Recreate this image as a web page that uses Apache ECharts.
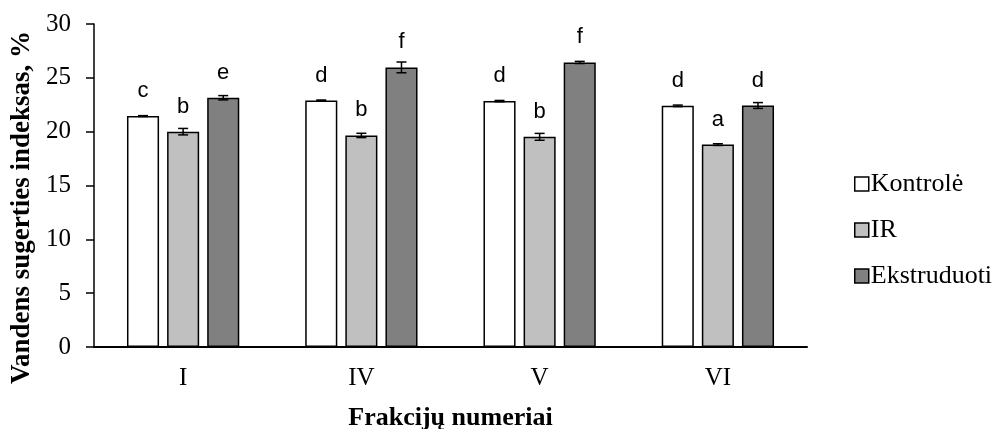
<!DOCTYPE html>
<html>
<head>
<meta charset="utf-8">
<script src="https://cdn.jsdelivr.net/npm/echarts@6/dist/echarts.min.js"></script>
<style>
  html, body { margin: 0; padding: 0; background: #fff; }
  #chart { width: 995px; height: 429px; }
</style>
</head>
<body>
<div id="chart"></div>
<script>
// Fractions and measured water absorption index (%) with standard errors
const categories = ['I', 'IV', 'V', 'VI'];
const seriesNames = ['Kontrolė', 'IR', 'Ekstruduoti'];

const kontrole = [21.45, 22.9, 22.84, 22.4];
const ir = [20.0, 19.65, 19.52, 18.8];
const ekstruduoti = [23.15, 25.97, 26.43, 22.43];

const kontroleErr = [0.04, 0.04, 0.06, 0.07];
const irErr = [0.3, 0.2, 0.32, 0.08];
const ekstruduotiErr = [0.2, 0.5, 0.1, 0.27];

// Significance letters above each bar
const kontroleLetters = ['c', 'd', 'd', 'd'];
const irLetters = ['b', 'b', 'b', 'a'];
const ekstruduotiLetters = ['e', 'f', 'f', 'd'];

const yTicks = [0, 5, 10, 15, 20, 25, 30];

const BAR_FRAC = 0.18;
const GAP_FRAC = 0.25;
const serif = '"Liberation Serif", "Times New Roman", serif';
const sans = '"Liberation Sans", Arial, sans-serif';

function barSeries(name, values, letters, color) {
  return {
    name: name,
    type: 'bar',
    data: values,
    barWidth: (BAR_FRAC * 100) + '%',
    barGap: (GAP_FRAC * 100) + '%',
    itemStyle: { color: color, borderColor: '#000', borderWidth: 1.5 },
    label: {
      show: true,
      position: 'top',
      distance: 14,
      formatter: p => letters[p.dataIndex],
      fontFamily: sans,
      fontSize: 22,
      color: '#000'
    },
    z: 2
  };
}

function errorSeries(values, errs, slot) {
  return {
    type: 'custom',
    data: values.map((v, i) => [i, v, errs[i]]),
    z: 5,
    silent: true,
    renderItem: function (params, api) {
      const i = api.value(0);
      const v = api.value(1);
      const e = api.value(2);
      const band = api.size([1, 0])[0];
      const step = band * BAR_FRAC * (1 + GAP_FRAC);
      const center = api.coord([i, v]);
      const x = center[0] + (slot - 1) * step;
      const yHi = api.coord([i, v + e])[1];
      const yLo = api.coord([i, v - e])[1];
      const cap = 5;
      const style = { stroke: '#000', lineWidth: 1.5 };
      return {
        type: 'group',
        children: [
          { type: 'line', shape: { x1: x, y1: yHi, x2: x, y2: yLo }, style: style },
          { type: 'line', shape: { x1: x - cap, y1: yHi, x2: x + cap, y2: yHi }, style: style },
          { type: 'line', shape: { x1: x - cap, y1: yLo, x2: x + cap, y2: yLo }, style: style }
        ]
      };
    }
  };
}

const chart = echarts.init(document.getElementById('chart'), null, { renderer: 'canvas' });

chart.setOption({
  animation: false,
  backgroundColor: '#fff',
  grid: {
    left: 94, right: 188, top: 24, bottom: 82,
    containLabel: false,
    outerBoundsMode: 'none'
  },
  legend: {
    orient: 'vertical',
    left: 849,
    top: 166,
    icon: 'rect',
    itemWidth: 14,
    itemHeight: 14,
    itemGap: 20,
    data: seriesNames,
    textStyle: { fontFamily: serif, fontSize: 26, color: '#000', padding: [0, 0, 0, -3] },
    itemStyle: { borderColor: '#000', borderWidth: 1.5 }
  },
  xAxis: {
    type: 'category',
    data: categories,
    name: 'Frakcijų numeriai',
    nameLocation: 'middle',
    nameGap: 58,
    nameTextStyle: { fontFamily: serif, fontSize: 26, fontWeight: 'bold', color: '#000' },
    axisLine: { lineStyle: { color: '#000', width: 2 } },
    axisTick: { show: false },
    axisLabel: { fontFamily: serif, fontSize: 25, color: '#000', margin: 19 }
  },
  yAxis: {
    type: 'value',
    min: yTicks[0],
    max: yTicks[yTicks.length - 1],
    interval: 5,
    name: 'Vandens sugerties indeksas, %',
    nameLocation: 'middle',
    nameGap: 57,
    nameTextStyle: {
      fontFamily: serif, fontSize: 27, fontWeight: 'bold', color: '#000',
      padding: [0, 44, 0, 0]
    },
    axisLine: { show: true, lineStyle: { color: '#000', width: 1.5 } },
    axisTick: { show: true, length: 8, lineStyle: { color: '#000', width: 1.5 } },
    splitLine: { show: false },
    axisLabel: { fontFamily: serif, fontSize: 25, color: '#000', margin: 23 }
  },
  series: [
    barSeries(seriesNames[0], kontrole, kontroleLetters, '#ffffff'),
    barSeries(seriesNames[1], ir, irLetters, '#c0c0c0'),
    barSeries(seriesNames[2], ekstruduoti, ekstruduotiLetters, '#808080'),
    errorSeries(kontrole, kontroleErr, 0),
    errorSeries(ir, irErr, 1),
    errorSeries(ekstruduoti, ekstruduotiErr, 2)
  ]
});
</script>
</body>
</html>
